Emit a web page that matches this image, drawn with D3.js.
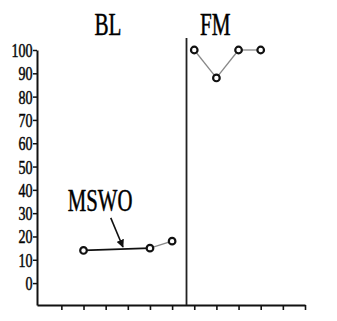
<!DOCTYPE html>
<html><head><meta charset="utf-8">
<script src="https://cdn.jsdelivr.net/npm/d3@7"></script>
<style>
html,body{margin:0;padding:0;background:#fff;}
svg{display:block;}
text{font-family:"Liberation Serif","Times New Roman",serif;fill:#000;stroke:#000;stroke-width:0.5px;}
</style></head>
<body>
<svg id="c" width="337" height="321"></svg>
<script>
// ---- data ----
const phases = ["BL", "FM"];
const blSessions = [2, 5, 6];
const blValues = [14, 15, 18];
const fmSessions = [7, 8, 9, 10];
const fmValues = [100, 88, 100, 100];
const xTicks = [1,2,3,4,5,6,7,8,9,10,11,12];
const yTicks = [0,10,20,30,40,50,60,70,80,90,100];
const phaseChange = 6.65;
const phaseLabelAt = [3.1, 7.95];
const annotationText = "MSWO";
const annotationLabelAt = [2.75, 31];
const arrowFrom = [3.23, 28];
const arrowTo = [3.78, 15.5];

const svg = d3.select("#c");
const x = d3.scaleLinear().domain([-0.1, 12]).range([37, 305]);
const y = d3.scaleLinear().domain([-9.4, 100]).range([305, 50]);

// x axis
const xa = svg.append("g").attr("transform", `translate(0,${y(-9.4)})`)
  .call(d3.axisBottom(x).tickValues(xTicks).tickSize(5).tickSizeOuter(0).tickFormat(""));
xa.select(".domain").attr("stroke", "#111").attr("stroke-width", 2);
xa.selectAll(".tick line").attr("stroke", "#111").attr("stroke-width", 1.6);

// y axis
const ya = svg.append("g").attr("transform", `translate(${x(-0.1)},0)`)
  .call(d3.axisLeft(y).tickValues(yTicks).tickSize(4).tickSizeOuter(0));
ya.select(".domain").attr("stroke", "#111").attr("stroke-width", 2);
ya.selectAll(".tick line").attr("stroke", "#111").attr("stroke-width", 1.5);
ya.selectAll(".tick text")
  .attr("x", 0).attr("dy", "0.36em")
  .attr("transform", "translate(-4.5,0) scale(0.78,1)")
  .attr("font-size", 18).attr("fill", "#111")
  .style("font-family", '"Liberation Serif","Times New Roman",serif')
  .style("stroke", "#111").style("stroke-width", "0.5px");

// phase change line
svg.append("line")
  .attr("x1", x(phaseChange)).attr("x2", x(phaseChange))
  .attr("y1", 38).attr("y2", y(-9.4))
  .attr("stroke", "#222").attr("stroke-width", 1.8);

// phase labels
phases.forEach((p, i) => {
  svg.append("text")
    .attr("transform", `translate(${x(phaseLabelAt[i])},35) scale(0.66,1)`)
    .attr("text-anchor", "middle")
    .attr("font-size", 32)
    .text(p);
});

// series lines
function drawSeries(sess, vals, firstDark) {
  const pts = sess.map((s, i) => [x(s), y(vals[i])]);
  for (let i = 0; i < pts.length - 1; i++) {
    const dark = firstDark && i === 0;
    svg.append("line")
      .attr("x1", pts[i][0]).attr("y1", pts[i][1])
      .attr("x2", pts[i+1][0]).attr("y2", pts[i+1][1])
      .attr("stroke", dark ? "#111" : "#888")
      .attr("stroke-width", dark ? 1.8 : 1.3);
  }
  svg.append("g").selectAll("circle").data(pts).join("circle")
    .attr("cx", d => d[0]).attr("cy", d => d[1]).attr("r", 3.3)
    .attr("fill", "#fff").attr("stroke", "#111").attr("stroke-width", 2.2);
}
drawSeries(blSessions, blValues, true);
drawSeries(fmSessions, fmValues, false);

// annotation
svg.append("defs").append("marker")
  .attr("id", "ah").attr("viewBox", "0 0 10 10").attr("refX", 9).attr("refY", 5)
  .attr("markerWidth", 5).attr("markerHeight", 5).attr("orient", "auto")
  .append("path").attr("d", "M0,0 L10,5 L0,10 z").attr("fill", "#111");
svg.append("line")
  .attr("x1", x(arrowFrom[0])).attr("y1", y(arrowFrom[1]))
  .attr("x2", x(arrowTo[0])).attr("y2", y(arrowTo[1]))
  .attr("stroke", "#111").attr("stroke-width", 1.6)
  .attr("marker-end", "url(#ah)");
svg.append("text")
  .attr("transform", `translate(${x(annotationLabelAt[0])},${y(annotationLabelAt[1])}) scale(0.67,1)`)
  .attr("text-anchor", "middle")
  .attr("font-size", 31)
  .text(annotationText);
</script>
</body></html>
